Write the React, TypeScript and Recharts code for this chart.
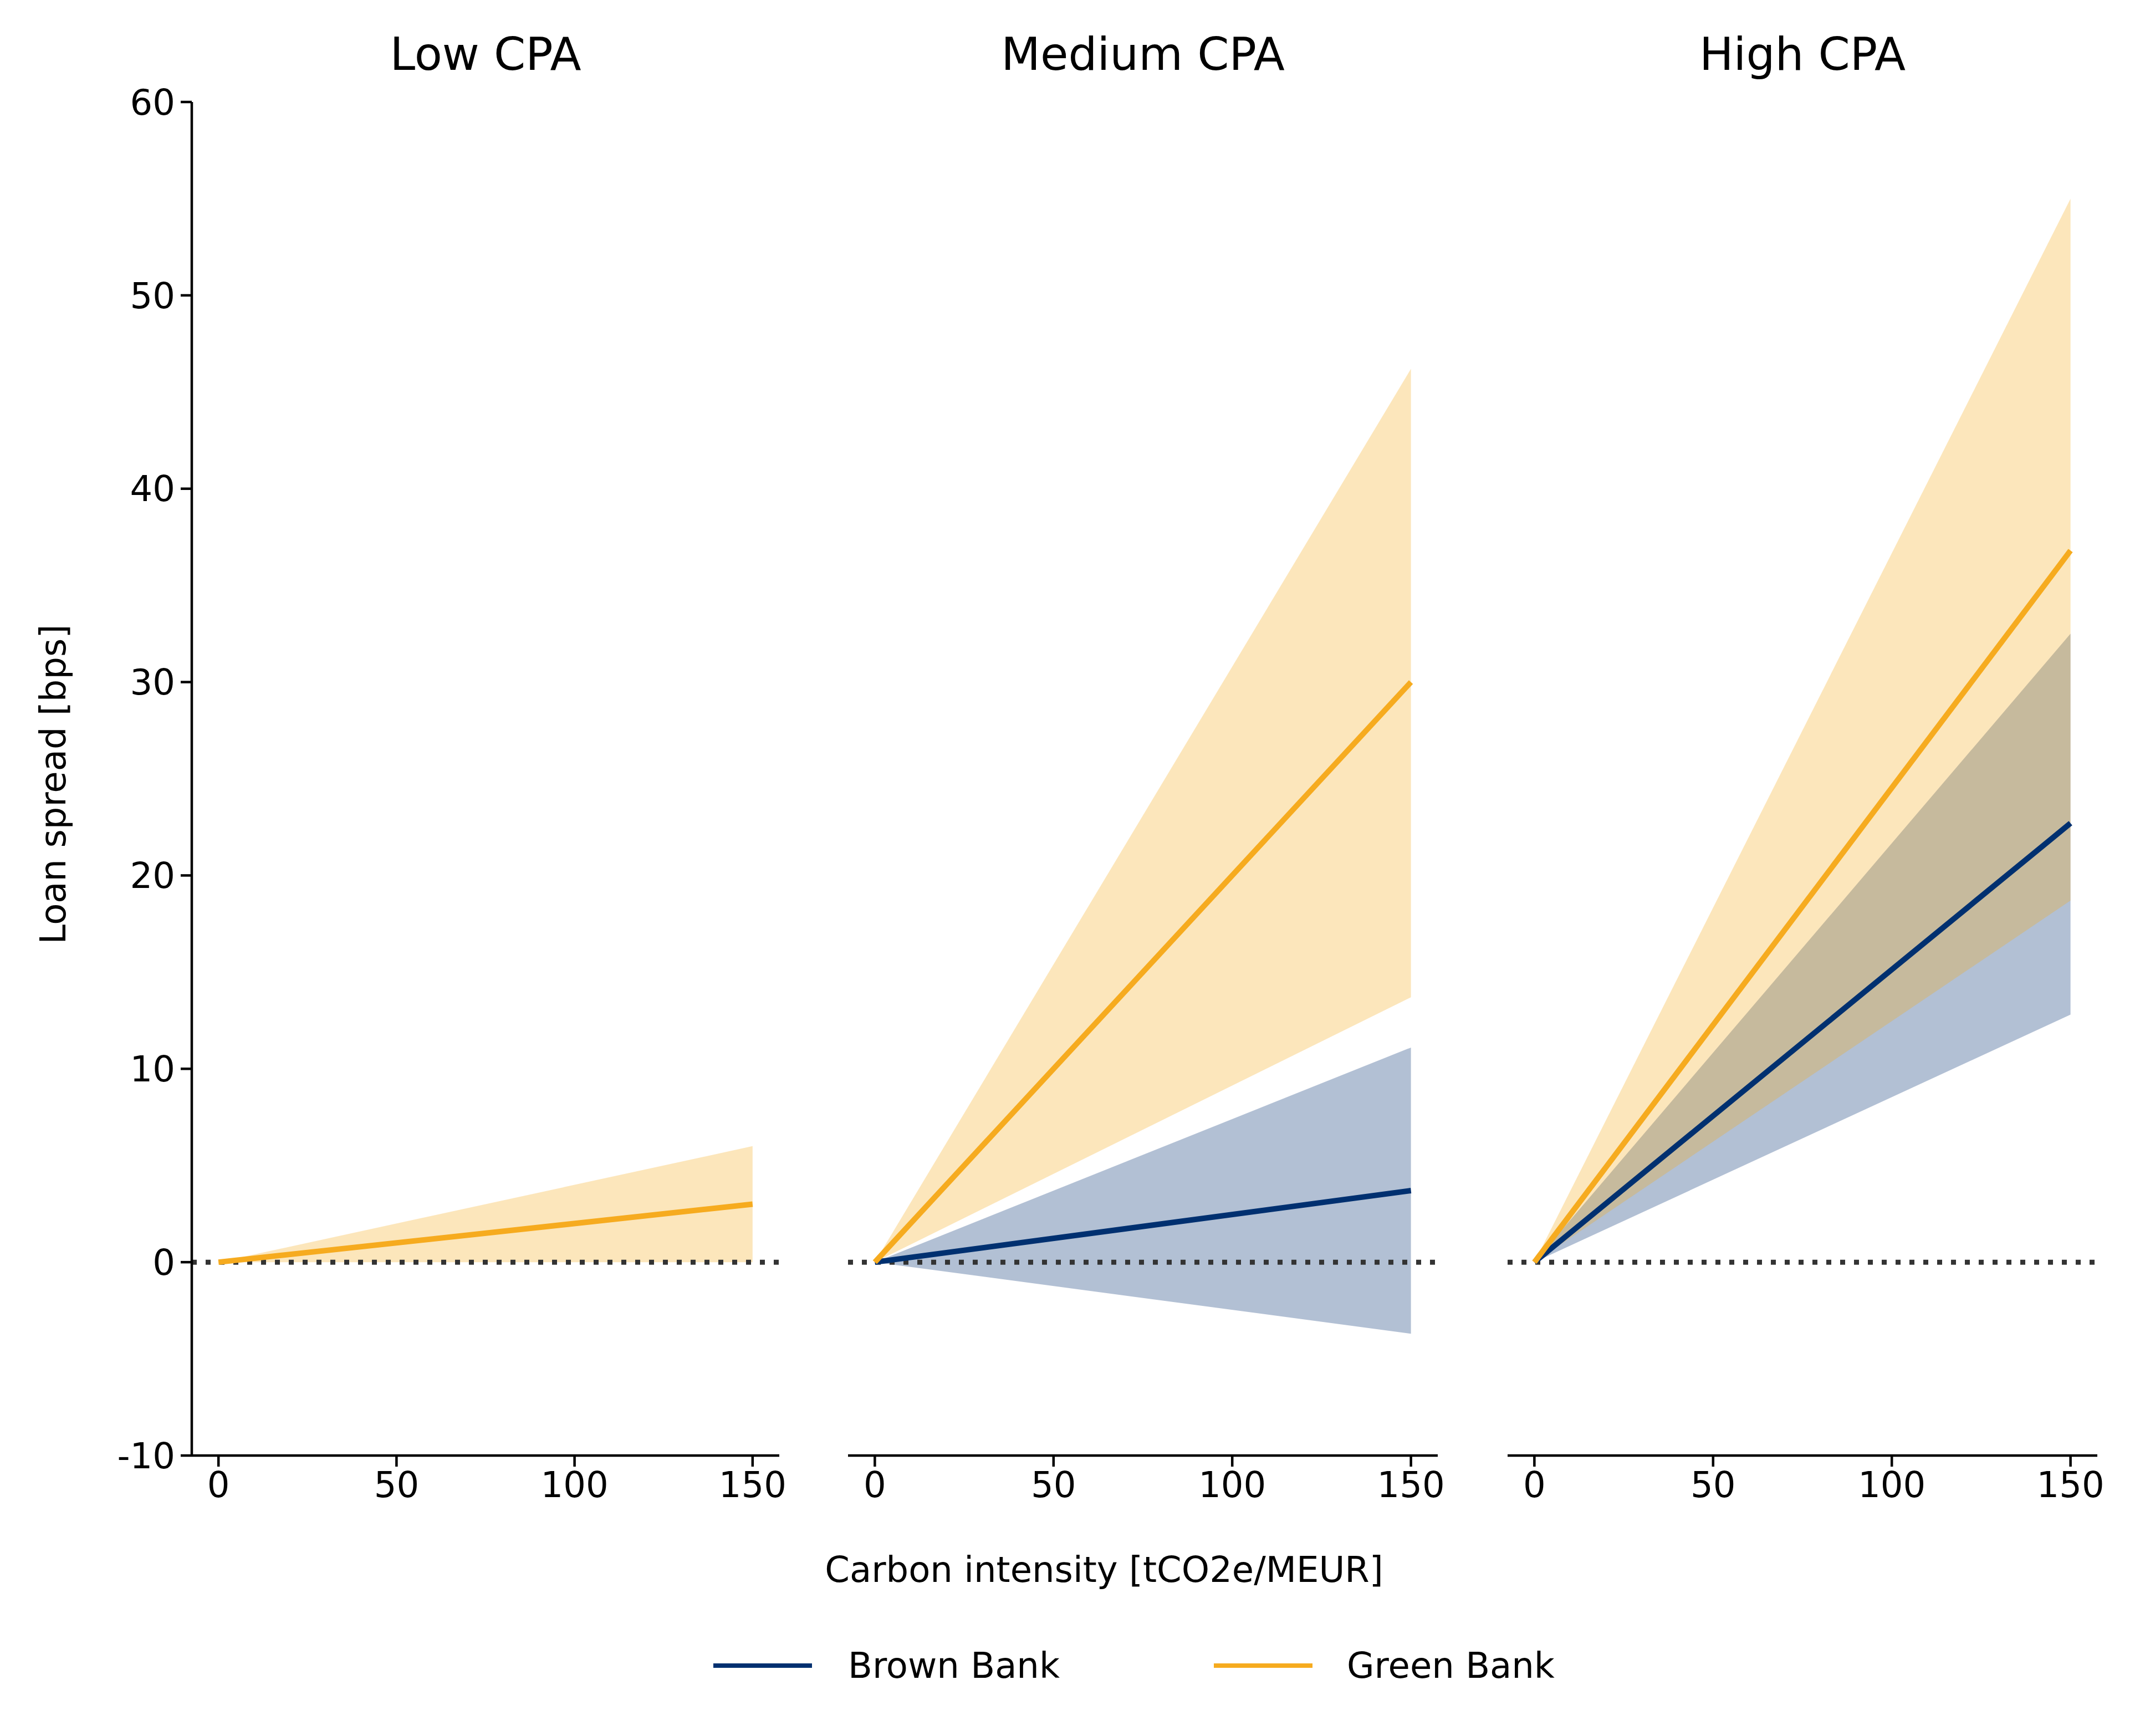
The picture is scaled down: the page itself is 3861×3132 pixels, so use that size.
import React from 'react';
import { ComposedChart, Line, Area, XAxis, YAxis, ReferenceLine } from 'recharts';

const intensity = [0, 150];
const panels = ['Low CPA', 'Medium CPA', 'High CPA'];
const greenMid = [[0, 3], [0, 30], [0, 36.8]];
const greenLow = [[0, 0], [0, 13.7], [0, 18.7]];
const greenHigh = [[0, 6], [0, 46.2], [0, 55]];
const brownMid = [null, [0, 3.7], [0, 22.7]];
const brownLow = [null, [0, -3.7], [0, 12.8]];
const brownHigh = [null, [0, 11.1], [0, 32.5]];
const yTicks = [-10, 0, 10, 20, 30, 40, 50, 60];
const xTicks = [0, 50, 100, 150];

const GREEN = '#f6ab1f';
const BROWN = '#003070';
const FONT = 'DejaVu Sans';
const tick = { fontSize: 64, fill: '#000', fontFamily: FONT };
const axisLine = { stroke: '#000', strokeWidth: 4.5 };

function Panel({ i, left, width, showY }: { i: number; left: number; width: number; showY: boolean }) {
  const rows = intensity.map((x, k) => ({
    x,
    g: greenMid[i][k],
    gBand: [greenLow[i][k], greenHigh[i][k]],
    b: brownMid[i] ? brownMid[i]![k] : null,
    bBand: brownMid[i] ? [brownLow[i]![k], brownHigh[i]![k]] : null,
  }));
  return (
    <div style={{ position: 'absolute', left, top: 0 }}>
      <ComposedChart width={width} height={2790} data={rows} margin={{ top: 184, right: 54, bottom: 14, left: 0 }}>
        <XAxis dataKey="x" type="number" domain={[-7.5, 157.5]} ticks={xTicks} tick={tick} tickSize={20}
          axisLine={axisLine} tickLine={axisLine} height={150} tickMargin={10} />
        <YAxis type="number" domain={[-10, 60]} ticks={yTicks} tick={tick} tickSize={20} hide={!showY}
          axisLine={axisLine} tickLine={axisLine} width={346} tickMargin={10} />
        {brownMid[i] && (
          <Area dataKey="bBand" type="linear" stroke="none" fill={BROWN} fillOpacity={0.3} isAnimationActive={false} />
        )}
        <Area dataKey="gBand" type="linear" stroke="none" fill={GREEN} fillOpacity={0.3} isAnimationActive={false} />
        <ReferenceLine y={0} stroke="#333" strokeWidth={9} strokeDasharray="9 16" />
        {brownMid[i] && (
          <Line dataKey="b" type="linear" stroke={BROWN} strokeWidth={10} dot={false} isAnimationActive={false} />
        )}
        <Line dataKey="g" type="linear" stroke={GREEN} strokeWidth={10} dot={false} isAnimationActive={false} />
      </ComposedChart>
      <div style={{ position: 'absolute', top: 50, left: showY ? 346 : 0, width: width - 54 - (showY ? 346 : 0),
        textAlign: 'center', fontSize: 82, fontFamily: FONT }}>{panels[i]}</div>
    </div>
  );
}

export default function App() {
  return (
    <div style={{ position: 'relative', width: 3861, height: 3132, margin: -8, background: '#fff', fontFamily: FONT }}>
      <Panel i={0} left={0} width={1460} showY />
      <Panel i={1} left={1530} width={1118} showY={false} />
      <Panel i={2} left={2720} width={1118} showY={false} />
      <div style={{ position: 'absolute', left: 96, top: 1415, transform: 'translate(-50%,-50%) rotate(-90deg)',
        fontSize: 64, whiteSpace: 'nowrap' }}>Loan spread [bps]</div>
      <div style={{ position: 'absolute', left: 1992, top: 2832, transform: 'translate(-50%,-50%)',
        fontSize: 64, whiteSpace: 'nowrap' }}>Carbon intensity [tCO2e/MEUR]</div>
      <div style={{ position: 'absolute', left: 1287, top: 3001, width: 178, height: 8, background: BROWN }} />
      <div style={{ position: 'absolute', left: 1530, top: 3005, transform: 'translateY(-50%)', fontSize: 64 }}>Brown Bank</div>
      <div style={{ position: 'absolute', left: 2190, top: 3001, width: 178, height: 8, background: GREEN }} />
      <div style={{ position: 'absolute', left: 2430, top: 3005, transform: 'translateY(-50%)', fontSize: 64 }}>Green Bank</div>
    </div>
  );
}
